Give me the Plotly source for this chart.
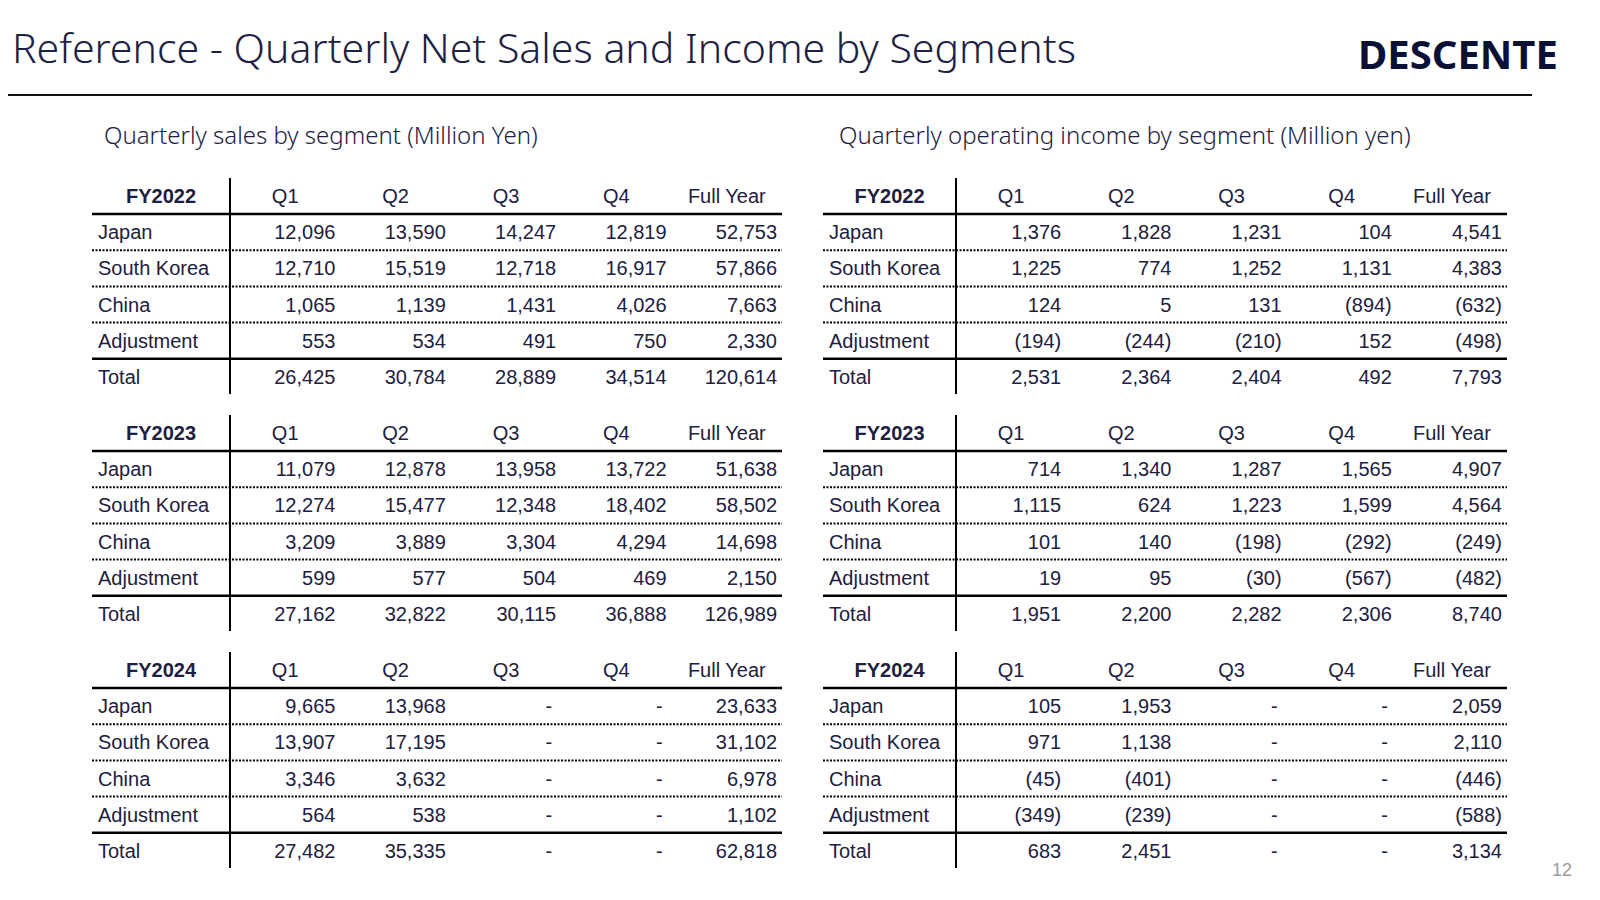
import plotly.graph_objects as go

# --- data (million yen) ---
segments = ["Japan", "South Korea", "China", "Adjustment", "Total"]
columns = ["Q1", "Q2", "Q3", "Q4", "Full Year"]
years = ["FY2022", "FY2023", "FY2024"]

sales_fy2022 = [
    [12096, 13590, 14247, 12819, 52753],
    [12710, 15519, 12718, 16917, 57866],
    [1065, 1139, 1431, 4026, 7663],
    [553, 534, 491, 750, 2330],
    [26425, 30784, 28889, 34514, 120614],
]
sales_fy2023 = [
    [11079, 12878, 13958, 13722, 51638],
    [12274, 15477, 12348, 18402, 58502],
    [3209, 3889, 3304, 4294, 14698],
    [599, 577, 504, 469, 2150],
    [27162, 32822, 30115, 36888, 126989],
]
sales_fy2024 = [
    [9665, 13968, None, None, 23633],
    [13907, 17195, None, None, 31102],
    [3346, 3632, None, None, 6978],
    [564, 538, None, None, 1102],
    [27482, 35335, None, None, 62818],
]

income_fy2022 = [
    [1376, 1828, 1231, 104, 4541],
    [1225, 774, 1252, 1131, 4383],
    [124, 5, 131, -894, -632],
    [-194, -244, -210, 152, -498],
    [2531, 2364, 2404, 492, 7793],
]
income_fy2023 = [
    [714, 1340, 1287, 1565, 4907],
    [1115, 624, 1223, 1599, 4564],
    [101, 140, -198, -292, -249],
    [19, 95, -30, -567, -482],
    [1951, 2200, 2282, 2306, 8740],
]
income_fy2024 = [
    [105, 1953, None, None, 2059],
    [971, 1138, None, None, 2110],
    [-45, -401, None, None, -446],
    [-349, -239, None, None, -588],
    [683, 2451, None, None, 3134],
]

sales_tables = [sales_fy2022, sales_fy2023, sales_fy2024]
income_tables = [income_fy2022, income_fy2023, income_fy2024]

# --- style ---
NAVY = "#1d2142"
TXT = "#1d2040"
TABLE_FONT = "Arial, Liberation Sans, sans-serif"
LIGHT_FONT = "Noto Sans, sans-serif"
W, H = 1600, 900
OFF = 8  # page body margin, axes are shifted so coordinates are page pixels

HEADER_H = 36
ROW_H = 36.2
TABLE_STEP = 237
TABLE_TOP = 178
TEXT_DY = 2
PANELS = [(92, 230, 782), (823, 956, 1507)]  # left edge, divider, right edge


def fmt(v):
    if v is None:
        return "-"
    if v < 0:
        return f"({abs(v):,})"
    return f"{v:,}"


fig = go.Figure()
shapes = []

for p, (tables, (x0, xv, x1)) in enumerate(zip([sales_tables, income_tables], PANELS)):
    col_w = (x1 - xv) / len(columns)
    for t, (year, data) in enumerate(zip(years, tables)):
        top = TABLE_TOP + t * TABLE_STEP
        head_y = top + HEADER_H / 2 + TEXT_DY
        row_ys = [top + HEADER_H + ROW_H * (j + 0.5) + TEXT_DY for j in range(len(segments))]

        # header row
        fig.add_trace(go.Scatter(
            x=[(x0 + xv) / 2], y=[head_y], mode="text", text=[f"<b>{year}</b>"],
            textposition="middle center",
            textfont=dict(family=TABLE_FONT, size=20, color=TXT),
            hoverinfo="skip", showlegend=False))
        fig.add_trace(go.Scatter(
            x=[xv + col_w * (i + 0.5) for i in range(len(columns))],
            y=[head_y] * len(columns), mode="text", text=columns,
            textposition="middle center",
            textfont=dict(family=TABLE_FONT, size=20, color=TXT),
            hoverinfo="skip", showlegend=False))

        # row labels
        fig.add_trace(go.Scatter(
            x=[x0 + 6] * len(segments), y=row_ys, mode="text", text=segments,
            textposition="middle right",
            textfont=dict(family=TABLE_FONT, size=20, color=TXT),
            hoverinfo="skip", showlegend=False))

        # values, right aligned in each column
        xs, ys, txt = [], [], []
        for j, row in enumerate(data):
            for i, v in enumerate(row):
                pad = 9 if v is None else 5
                xs.append(xv + col_w * (i + 1) - pad)
                ys.append(row_ys[j])
                txt.append(fmt(v))
        fig.add_trace(go.Scatter(
            x=xs, y=ys, mode="text", text=txt, textposition="middle left",
            textfont=dict(family=TABLE_FONT, size=20, color=TXT),
            hoverinfo="skip", showlegend=False))

        # rules
        shapes.append(dict(type="line", xref="x", yref="y", x0=x0, x1=x1,
                           y0=top + HEADER_H, y1=top + HEADER_H,
                           line=dict(color="#000", width=2.5)))
        for j in range(1, len(segments)):
            y = top + HEADER_H + ROW_H * j
            last = j == len(segments) - 1
            shapes.append(dict(type="line", xref="x", yref="y", x0=x0, x1=x1,
                               y0=y, y1=y,
                               line=dict(color="#000", width=2.5 if last else 2,
                                         dash="solid" if last else "2px,1.5px")))
        shapes.append(dict(type="line", xref="x", yref="y", x0=xv, x1=xv,
                           y0=top, y1=top + HEADER_H + ROW_H * len(segments) - 1,
                           line=dict(color="#000", width=2)))

# header rule under title
shapes.append(dict(type="line", xref="x", yref="y", x0=OFF, x1=1532, y0=95, y1=95,
                   line=dict(color="#111", width=2)))

annotations = [
    dict(x=10, y=47, xref="x", yref="y", xanchor="left", yanchor="middle",
         text="Reference - Quarterly Net Sales and Income by Segments", showarrow=False,
         font=dict(family=LIGHT_FONT, size=41, color=NAVY, weight=300)),
    dict(x=1560, y=53, xref="x", yref="y", xanchor="right", yanchor="middle",
         text="<b>DESCENTE</b>", showarrow=False,
         font=dict(family="Noto Sans, sans-serif", size=40, color="#0b1035")),
    dict(x=102, y=134, xref="x", yref="y", xanchor="left", yanchor="middle",
         text="Quarterly sales by segment (Million Yen)", showarrow=False,
         font=dict(family=LIGHT_FONT, size=24, color=NAVY, weight=300)),
    dict(x=837, y=134, xref="x", yref="y", xanchor="left", yanchor="middle",
         text="Quarterly operating income by segment (Million yen)", showarrow=False,
         font=dict(family=LIGHT_FONT, size=24, color=NAVY, weight=300)),
    dict(x=1574, y=870, xref="x", yref="y", xanchor="right", yanchor="middle",
         text="12", showarrow=False,
         font=dict(family=TABLE_FONT, size=18, color="#9a9a9a")),
]

fig.update_layout(
    width=W, height=H, margin=dict(l=0, r=0, t=0, b=0),
    paper_bgcolor="white", plot_bgcolor="white",
    xaxis=dict(range=[OFF, W + OFF], visible=False, fixedrange=True),
    yaxis=dict(range=[H + OFF, OFF], visible=False, fixedrange=True),
    shapes=shapes, annotations=annotations, showlegend=False,
)

fig.write_html("out.html")
